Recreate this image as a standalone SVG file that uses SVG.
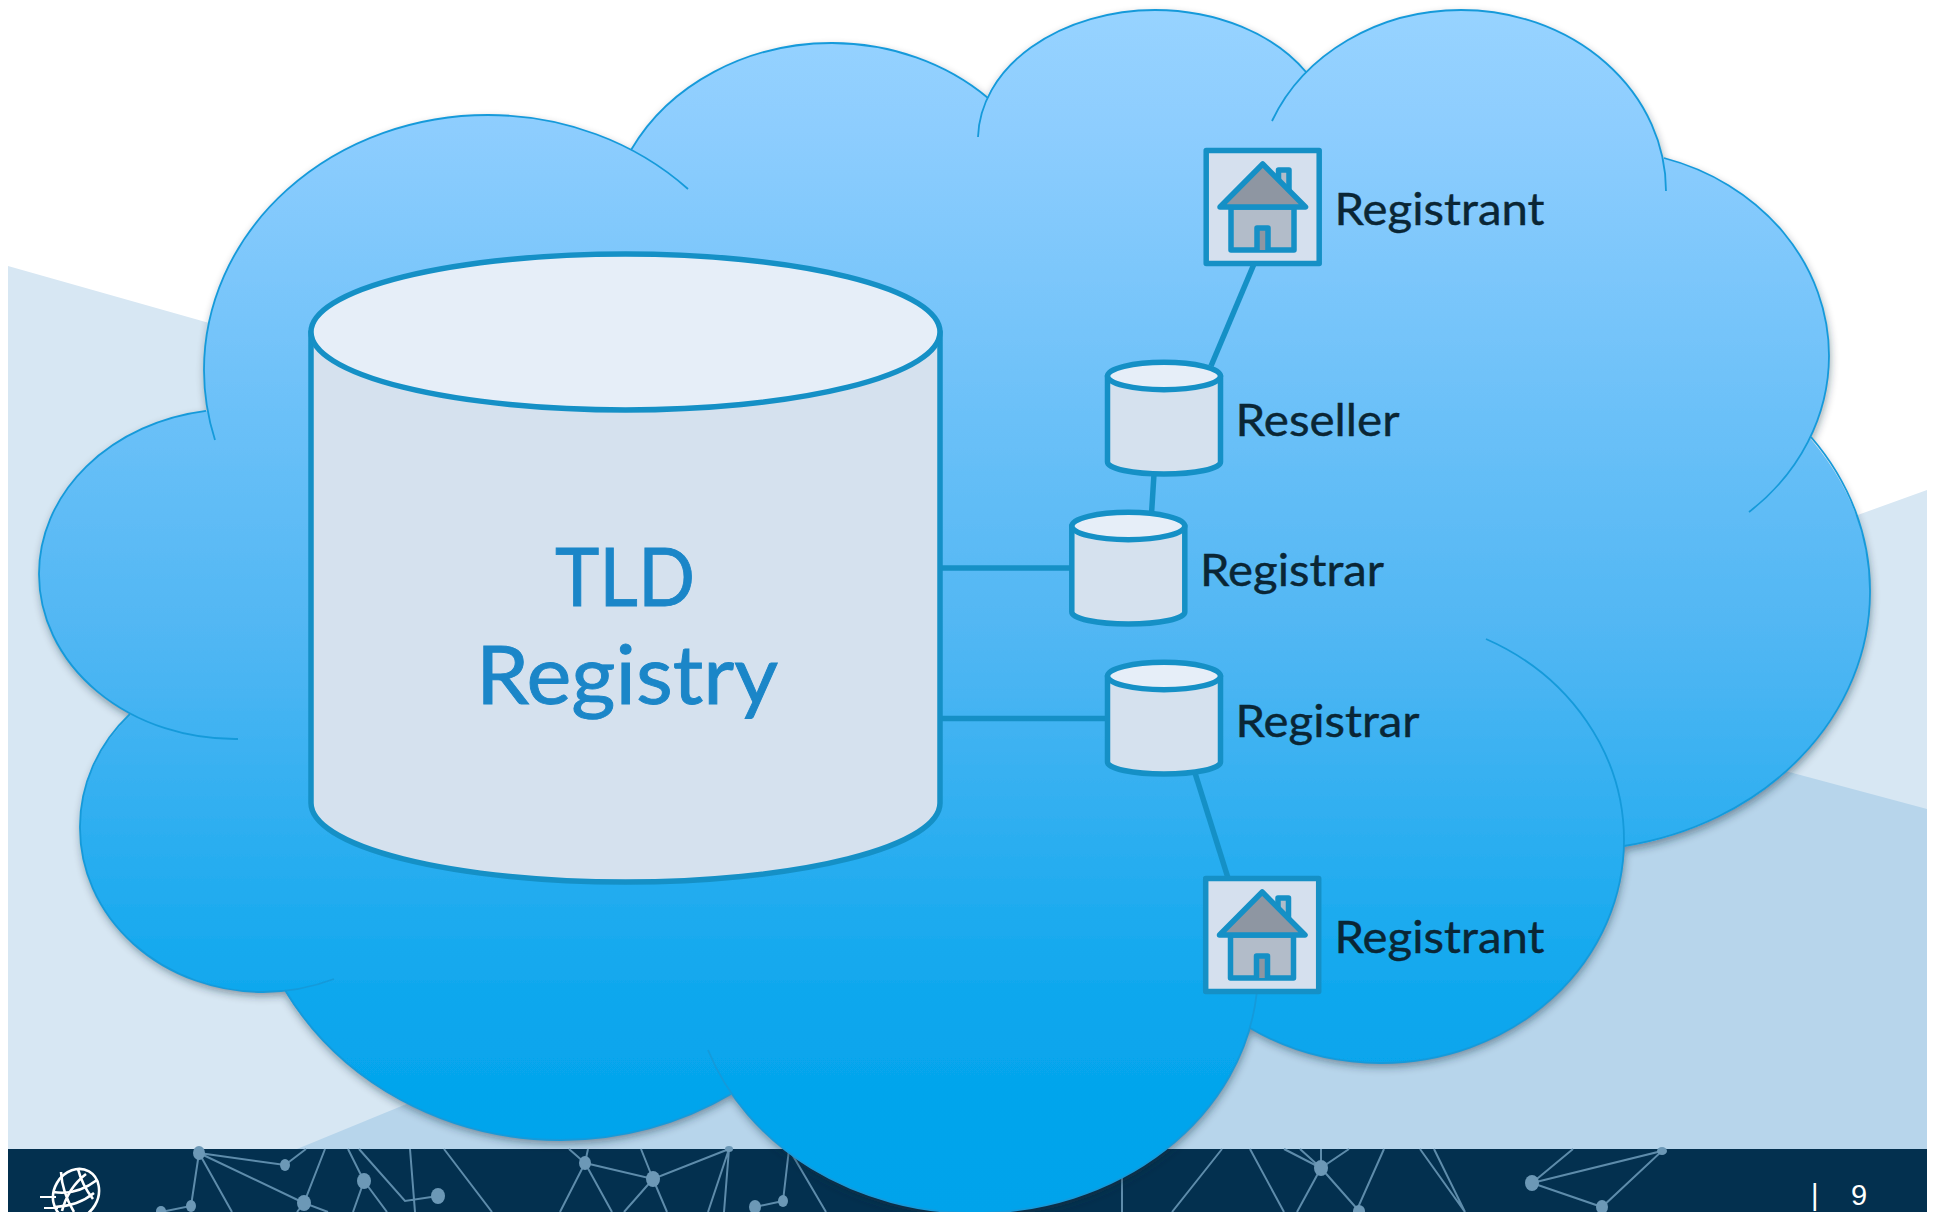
<svg xmlns="http://www.w3.org/2000/svg" xmlns:xlink="http://www.w3.org/1999/xlink" width="1937" height="1212" viewBox="0 0 1937 1212">
<style>
.net{stroke:#5E8CAB;stroke-width:2;fill:none}
.dot{fill:#6C98B6}
.arc{fill:none;stroke:#159ADA;stroke-width:1.8}
.blob{fill:url(#sky)}
.cyl{fill:#D5E1EE;stroke:#1590C6;stroke-width:5.5;stroke-linejoin:round}
.cap{fill:#E6EEF8;stroke:#1590C6;stroke-width:5.5}
.conn{stroke:#1590C6;stroke-width:5.5;fill:none}
.lbl{font-family:"Lato","Carlito","Open Sans",sans-serif;font-size:43.5px;fill:#0A2635;stroke:#0A2635;stroke-width:0.4}
.big{font-family:"Lato","Carlito","Open Sans",sans-serif;font-size:82px;fill:#1B86C8;stroke:#1B86C8;stroke-width:0.9}
.globe{fill:none;stroke:#fff;stroke-width:2.6}
.hs{stroke:#1590C6;stroke-width:5.5;stroke-linejoin:round}
</style>
<defs>
<linearGradient id="sky" gradientUnits="userSpaceOnUse" x1="0" y1="10" x2="0" y2="1213">
<stop offset="0" stop-color="#97D3FF"/>
<stop offset="0.1" stop-color="#8DCDFE"/>
<stop offset="0.53" stop-color="#4FB6F3"/>
<stop offset="0.85" stop-color="#08A6ED"/>
<stop offset="1" stop-color="#00A3EB"/>
</linearGradient>
<filter id="sh" x="-5%" y="-5%" width="110%" height="110%">
<feDropShadow dx="1" dy="4" stdDeviation="4" flood-color="#1a2a3a" flood-opacity="0.45"/>
</filter>
<g id="small-cyl">
<path class="cyl" d="M1107.5,376 V462 A56.5,12 0 0 0 1220.5,462 V376 Z"/>
<ellipse class="cap" cx="1164" cy="376" rx="56.5" ry="13.7"/>
</g>
<g id="house-box">
<rect x="1206.2" y="150.5" width="113" height="113" fill="#D5E0EE" stroke="#1590C6" stroke-width="5.5" stroke-linejoin="round"/>
<path class="hs" d="M1278.5,185 V170 H1289 V196 Z" fill="#B2BCC9"/>
<path class="hs" d="M1231,207 H1294 V250 H1231 Z" fill="#B2BCC9"/>
<path class="hs" d="M1220,207 L1262.7,164 L1305.5,207 Z" fill="#8E96A2"/>
<path class="hs" d="M1257,250 V228 H1268 V250" fill="#8E96A2"/>
</g>
</defs>

<rect x="0" y="0" width="1937" height="1212" fill="#FFFFFF"/>
<polygon points="8,266 1431,669 1927,490 1927,1149 8,1149" fill="#D7E7F3"/>
<polygon points="297,1149 1000,860 1700,748 1927,809 1927,1149" fill="#B7D5EB"/>
<rect x="8" y="1149" width="1919" height="63" fill="#03304F"/>

<g id="footer-network">
<path class="net" d="M199,1153 L285,1165 L306,1149 M199,1153 L304,1203 M199,1153 L232,1212 M199,1153 L191,1206 L161,1212 M325,1149 L304,1203 L328,1212 M304,1203 L297,1212 M348,1149 L364,1181 L353,1212 M364,1181 L387,1212 M359,1149 L405,1201 L438,1196 M410,1149 L415,1212 M444,1149 L492,1212 M585,1163 L569,1149 M585,1163 L588,1149 M585,1163 L560,1212 M585,1163 L612,1212 M585,1163 L653,1179 L729,1149 M653,1179 L641,1149 M653,1179 L624,1212 M653,1179 L667,1212 M729,1149 L708,1212 M729,1149 L724,1212 M783,1201 L789,1149 M783,1201 L755,1207 M789,1149 L826,1212"/>
<path class="net" d="M1122,1177 V1212 M1222,1149 L1172,1212 M1250,1149 L1284,1212 M1284,1149 L1321,1168 M1300,1149 L1321,1168 M1321,1149 V1168 M1349,1149 L1321,1168 L1297,1212 M1321,1168 L1359,1211 M1384,1149 L1356,1212 M1420,1149 L1465,1212 M1434,1149 L1465,1212 M1573,1149 L1532,1183 L1662,1151 L1602,1207 L1532,1183"/>
<ellipse class="dot" cx="199" cy="1153" rx="6" ry="7"/><ellipse class="dot" cx="285" cy="1165" rx="5" ry="6"/>
<ellipse class="dot" cx="364" cy="1181" rx="7" ry="8"/><ellipse class="dot" cx="304" cy="1203" rx="7" ry="8"/>
<ellipse class="dot" cx="438" cy="1196" rx="7" ry="8"/><ellipse class="dot" cx="191" cy="1206" rx="5" ry="6"/>
<ellipse class="dot" cx="161" cy="1211" rx="5" ry="5"/><ellipse class="dot" cx="585" cy="1163" rx="6" ry="7"/>
<ellipse class="dot" cx="653" cy="1179" rx="7" ry="8"/><ellipse class="dot" cx="783" cy="1201" rx="5" ry="6"/>
<ellipse class="dot" cx="755" cy="1207" rx="6" ry="7"/><ellipse class="dot" cx="729" cy="1149" rx="4" ry="3"/>
<ellipse class="dot" cx="1321" cy="1168" rx="7" ry="8"/><ellipse class="dot" cx="1359" cy="1211" rx="6" ry="6"/>
<ellipse class="dot" cx="1532" cy="1183" rx="7" ry="8"/><ellipse class="dot" cx="1602" cy="1207" rx="6" ry="7"/>
<ellipse class="dot" cx="1662" cy="1151" rx="5" ry="4"/>
</g>

<g id="footer-logo">
<ellipse class="globe" cx="76" cy="1194" rx="22" ry="26" transform="rotate(30 76 1194)"/>
<path class="globe" d="M61,1172 Q62,1192 74,1212 M78,1169 Q82,1185 93,1199 M86,1174 Q68,1188 62,1211"/>
<path class="globe" d="M53,1192 Q76,1196 97,1180 M55,1207 Q78,1206 94,1193"/>
<path d="M40,1197 H56 M44,1208 H58" stroke="#fff" stroke-width="2" fill="none"/>
</g>
<text id="page-number" x="1811 1823 1836 1851" y="1205" font-family="'Liberation Sans',Arial,sans-serif" font-size="29" fill="#FFFFFF" xml:space="preserve">|  9</text>

<g id="cloud">
<g filter="url(#sh)">
<g class="blob">
<ellipse cx="488" cy="370" rx="284" ry="255"/>
<ellipse cx="832" cy="238" rx="225" ry="195"/>
<ellipse cx="1155" cy="140" rx="178" ry="130"/>
<ellipse cx="1461" cy="191" rx="205" ry="181"/>
<ellipse cx="1600" cy="356" rx="229" ry="206"/>
<ellipse cx="1570" cy="593" rx="300" ry="258"/>
<ellipse cx="1381" cy="840" rx="243" ry="223"/>
<ellipse cx="975" cy="970" rx="283" ry="243"/>
<ellipse cx="560" cy="850" rx="315" ry="290"/>
<ellipse cx="263" cy="828" rx="183" ry="164"/>
<ellipse cx="235" cy="574" rx="196" ry="165"/>
<polygon points="300,300 640,180 1000,130 1300,120 1660,200 1750,500 1600,800 1300,1000 700,1060 300,950 130,700"/>
</g>
</g>
<path class="arc" d="M215,440 A284,255 0 0 1 204,370 A284,255 0 0 1 488,115 A284,255 0 0 1 688,189"/>
<path class="arc" d="M631,150 A225,195 0 0 1 832,43 A225,195 0 0 1 988,98"/>
<path class="arc" d="M978,137 A178,130 0 0 1 1155,10 A178,130 0 0 1 1306,72"/>
<path class="arc" d="M1272,121 A205,181 0 0 1 1461,10 A205,181 0 0 1 1666,191"/>
<path class="arc" d="M1664,158 A229,206 0 0 1 1829,356 A229,206 0 0 1 1749,512"/>
<path class="arc" d="M1811,437 A300,258 0 0 1 1870,593 A300,258 0 0 1 1624,846"/>
<path class="arc" d="M1486,639 A243,223 0 0 1 1624,840 A243,223 0 0 1 1381,1063 A243,223 0 0 1 1250,1028"/>
<path class="arc" d="M1256.6,994 A283,243 0 0 1 975,1213 A283,243 0 0 1 708,1050"/>
<path class="arc" d="M731,1094 A315,290 0 0 1 560,1140 A315,290 0 0 1 285,990"/>
<path class="arc" d="M334,979 A183,164 0 0 1 263,992 A183,164 0 0 1 80,828 A183,164 0 0 1 130,714"/>
<path class="arc" d="M238,739 A196,165 0 0 1 39,574 A196,165 0 0 1 206,410.8"/>
</g>

<g id="connectors">
<line class="conn" x1="940" y1="568" x2="1073" y2="568"/>
<line class="conn" x1="940" y1="718.5" x2="1108" y2="718.5"/>
<line class="conn" x1="1254" y1="264" x2="1211" y2="366"/>
<line class="conn" x1="1154" y1="474" x2="1151.5" y2="514"/>
<line class="conn" x1="1195" y1="773" x2="1228" y2="878"/>
</g>

<g id="tld-registry">
<path class="cyl" d="M311,332 V803 A314.5,79 0 0 0 940,803 V332 Z"/>
<ellipse class="cap" cx="625.5" cy="332" rx="314.5" ry="78"/>
<text class="big" x="555" y="606" textLength="140" lengthAdjust="spacingAndGlyphs">TLD</text>
<text class="big" x="476" y="704" textLength="302" lengthAdjust="spacingAndGlyphs">Registry</text>
</g>
<g id="registrant-top">
<use href="#house-box"/>
<text class="lbl" x="1334.5" y="224.5" textLength="210" lengthAdjust="spacingAndGlyphs">Registrant</text>
</g>
<g id="reseller">
<use href="#small-cyl"/>
<text class="lbl" x="1235.5" y="435.5" textLength="164" lengthAdjust="spacingAndGlyphs">Reseller</text>
</g>
<g id="registrar-1">
<use href="#small-cyl" transform="translate(-35.7,150)"/>
<text class="lbl" x="1200" y="586" textLength="184" lengthAdjust="spacingAndGlyphs">Registrar</text>
</g>
<g id="registrar-2">
<use href="#small-cyl" transform="translate(0,300)"/>
<text class="lbl" x="1235.5" y="736.5" textLength="184" lengthAdjust="spacingAndGlyphs">Registrar</text>
</g>
<g id="registrant-bottom">
<use href="#house-box" transform="translate(-0.5,728)"/>
<text class="lbl" x="1334.5" y="953" textLength="210" lengthAdjust="spacingAndGlyphs">Registrant</text>
</g>
</svg>
